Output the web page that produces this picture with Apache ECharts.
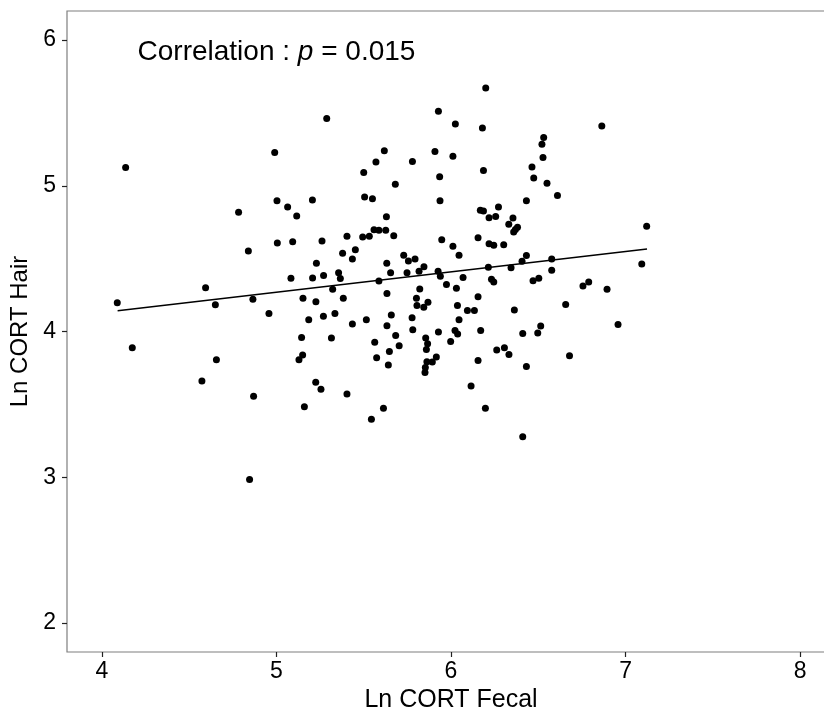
<!DOCTYPE html>
<html>
<head>
<meta charset="utf-8">
<script src="https://cdn.jsdelivr.net/npm/echarts@6/dist/echarts.min.js"></script>
<style>
html,body{margin:0;padding:0;background:#fff;}
#chart{width:824px;height:710px;}
</style>
</head>
<body>
<div id="chart"></div>
<script>
// Ln CORT Fecal (x) values
const fecal = [
4.136,4.783,4.839,4.594,4.865,4.088,4.650,4.174,4.656,4.573,4.869,4.846,
5.288,4.990,5.618,5.570,5.500,5.681,5.003,5.064,5.206,5.505,5.550,5.116,5.630,5.559,5.587,5.626,5.672,5.404,5.494,5.532,5.005,5.093,5.261,5.379,5.452,5.435,5.229,5.632,5.654,5.356,5.083,5.207,5.270,5.366,5.587,
5.322,5.152,5.226,5.383,5.633,4.957,5.185,5.269,5.335,5.435,5.515,5.658,5.633,5.683,5.703,5.144,5.315,5.563,5.647,5.574,5.641,5.150,5.129,5.225,5.255,5.404,5.160,5.613,5.544,
6.199,5.928,6.025,6.180,5.908,5.779,6.011,5.935,6.186,5.937,6.432,6.168,6.186,6.272,6.218,6.256,6.355,6.331,6.381,6.369,6.359,5.947,6.011,6.046,6.155,6.218,6.245,6.302,6.432,6.407,5.729,5.756,5.794,5.845,5.817,5.748,5.926,5.939,6.214,6.344,6.069,6.232,6.245,5.974,6.031,5.821,6.470,6.503,
5.802,5.868,5.805,5.844,6.155,6.037,6.094,6.134,6.363,5.777,6.046,5.781,5.928,6.023,6.038,6.170,6.411,6.497,5.855,5.866,5.859,5.998,6.262,6.306,6.332,5.916,5.893,5.862,5.853,5.851,6.155,6.432,6.115,6.197,6.411,
6.864,6.531,6.521,6.527,6.464,6.474,6.550,6.610,7.121,6.577,6.577,7.093,6.756,6.789,6.894,6.657,6.514,6.957,6.679
];
// Ln CORT Hair (y) values
const hair = [
5.126,4.818,4.553,4.301,4.222,4.197,4.183,3.888,3.806,3.660,3.555,2.984,
5.462,5.229,5.240,5.164,5.092,5.010,4.897,4.854,4.902,4.923,4.911,4.792,4.788,4.699,4.695,4.695,4.658,4.653,4.649,4.653,4.608,4.616,4.621,4.537,4.562,4.498,4.468,4.468,4.404,4.404,4.366,4.368,4.384,4.364,4.347,
4.290,4.229,4.205,4.229,4.260,4.123,4.080,4.105,4.123,4.051,4.080,4.114,4.039,3.973,3.902,3.959,3.955,3.927,3.863,3.820,3.770,3.838,3.806,3.651,3.603,3.571,3.484,3.473,3.397,
5.671,5.512,5.425,5.397,5.236,5.167,5.203,5.062,5.105,4.897,4.897,4.832,4.827,4.854,4.781,4.790,4.779,4.736,4.715,4.701,4.683,4.630,4.585,4.523,4.644,4.603,4.592,4.596,4.521,4.482,4.523,4.484,4.498,4.445,4.414,4.404,4.414,4.379,4.441,4.438,4.370,4.359,4.340,4.322,4.297,4.292,4.349,4.366,
4.229,4.201,4.178,4.167,4.238,4.178,4.144,4.144,4.147,4.094,4.080,4.012,3.996,4.007,3.982,4.007,3.986,3.989,3.955,3.916,3.877,3.932,3.873,3.888,3.842,3.825,3.790,3.792,3.753,3.719,3.801,3.760,3.626,3.473,3.277,
5.411,5.332,5.286,5.195,5.130,5.053,5.018,4.934,4.722,4.498,4.421,4.464,4.313,4.340,4.290,4.185,4.037,4.048,3.834
];
// fitted regression line end points
const fitX = [4.09, 7.123];
const fitY = [4.142, 4.566];
// axis ticks
const xTicks = [4, 5, 6, 7, 8];
const yTicks = [2, 3, 4, 5, 6];
// annotation
const noteText = ['Correlation : ', 'p', ' = 0.015'];
const notePos = [5.0, 5.915];

const points = fecal.map((v, i) => [v, hair[i]]);
const fitLine = fitX.map((v, i) => [v, fitY[i]]);

const chart = echarts.init(document.getElementById('chart'), null, {renderer: 'canvas'});
const FONT = '"Liberation Sans", Arial, Helvetica, sans-serif';
chart.setOption({
  animation: false,
  backgroundColor: '#ffffff',
  grid: {
    left: 67, top: 11, right: -11, bottom: 58,
    outerBoundsMode: 'none', containLabel: false,
    show: true, borderColor: '#7f7f7f', borderWidth: 1.2, backgroundColor: 'transparent'
  },
  xAxis: {
    type: 'value', min: 3.8, max: 8.2,
    name: 'Ln CORT Fecal', nameLocation: 'middle', nameGap: 31,
    nameTextStyle: {fontFamily: FONT, fontSize: 25, color: '#000'},
    axisLine: {show: false},
    splitLine: {show: false},
    axisTick: {show: true, inside: false, length: 5, customValues: xTicks, lineStyle: {color: '#222', width: 1.2}},
    axisLabel: {show: true, customValues: xTicks, margin: 8, fontFamily: FONT, fontSize: 23, color: '#000'}
  },
  yAxis: {
    type: 'value', min: 1.8, max: 6.2,
    name: 'Ln CORT Hair', nameLocation: 'middle', nameGap: 33,
    nameTextStyle: {fontFamily: FONT, fontSize: 24, color: '#000'},
    axisLine: {show: false},
    splitLine: {show: false},
    axisTick: {show: true, inside: false, length: 5, customValues: yTicks, lineStyle: {color: '#222', width: 1.2}},
    axisLabel: {show: true, customValues: yTicks, margin: 11, fontFamily: FONT, fontSize: 23, color: '#000'}
  },
  series: [
    {
      type: 'scatter', data: points, symbol: 'circle', symbolSize: 7,
      itemStyle: {color: '#000', opacity: 1}, silent: true
    },
    {
      type: 'line', data: fitLine, symbol: 'none', silent: true,
      lineStyle: {color: '#000', width: 1.5}
    },
    {
      type: 'scatter', data: [notePos], symbolSize: 0, silent: true,
      itemStyle: {opacity: 1},
      label: {
        show: true, position: 'inside', color: '#000',
        formatter: '{a|' + noteText[0] + '}{i|' + noteText[1] + '}{a|' + noteText[2] + '}',
        rich: {
          a: {fontFamily: FONT, fontSize: 28, color: '#000'},
          i: {fontFamily: FONT, fontSize: 28, fontStyle: 'italic', color: '#000'}
        }
      }
    }
  ]
});
</script>
</body>
</html>
